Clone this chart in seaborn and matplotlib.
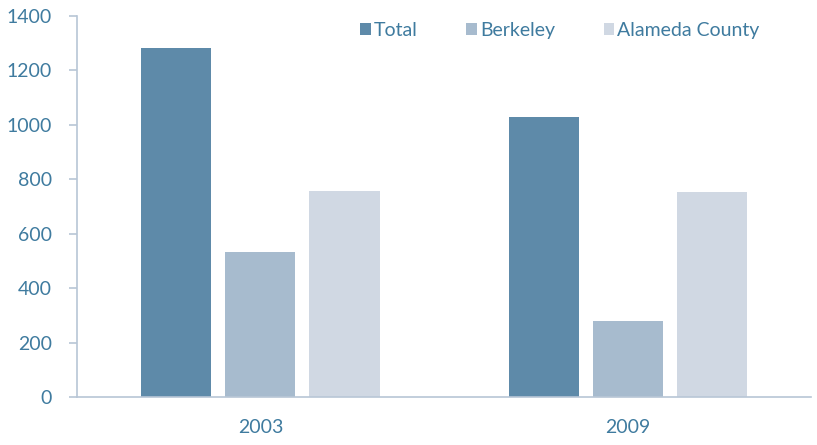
import matplotlib.pyplot as plt
import pandas as pd
import seaborn as sns

# Datos
years = ['2003', '2009']
series = ['Total', 'Berkeley', 'Alameda County']
total = [1283, 1030]
berkeley = [533, 280]
alameda = [757, 753]

colors = ['#5e8aa9', '#a7bbce', '#d0d8e3']
text_color = '#3f7b9f'
axis_color = '#b8c6d6'

df = pd.DataFrame({
    'year': years * 3,
    'series': [s for s in series for _ in years],
    'value': total + berkeley + alameda,
})

sns.set_style('white')
plt.rcParams['font.family'] = ['Lato', 'DejaVu Sans']

fig = plt.figure(figsize=(8.17, 4.45), dpi=100)
ax = fig.add_axes([0.094, 0.108, 0.899, 0.856])

sns.barplot(data=df, x='year', y='value', hue='series', hue_order=series,
            palette=colors, width=0.687, gap=0.167, saturation=1,
            linewidth=0, ax=ax)

ax.set_ylim(0, 1400)
ax.set_yticks(range(0, 1401, 200))
ax.set_xlim(-0.5, 1.5)
ax.set_xlabel('')
ax.set_ylabel('')

for side in ['top', 'right']:
    ax.spines[side].set_visible(False)
for side in ['left', 'bottom']:
    ax.spines[side].set_color(axis_color)
    ax.spines[side].set_linewidth(1.2)

ax.tick_params(axis='y', length=6, width=1.2, color=axis_color,
               labelcolor=text_color, labelsize=14, pad=12, left=True)
ax.tick_params(axis='x', length=0, labelcolor=text_color, labelsize=14, pad=16)

leg = ax.legend(loc='upper left', bbox_to_anchor=(0.362, 1.03), ncol=3,
                frameon=False, fontsize=14, handlelength=0.55, handleheight=0.55,
                handletextpad=0.15, columnspacing=2.5)
for t in leg.get_texts():
    t.set_color(text_color)

fig.savefig('out.png', dpi=100)
